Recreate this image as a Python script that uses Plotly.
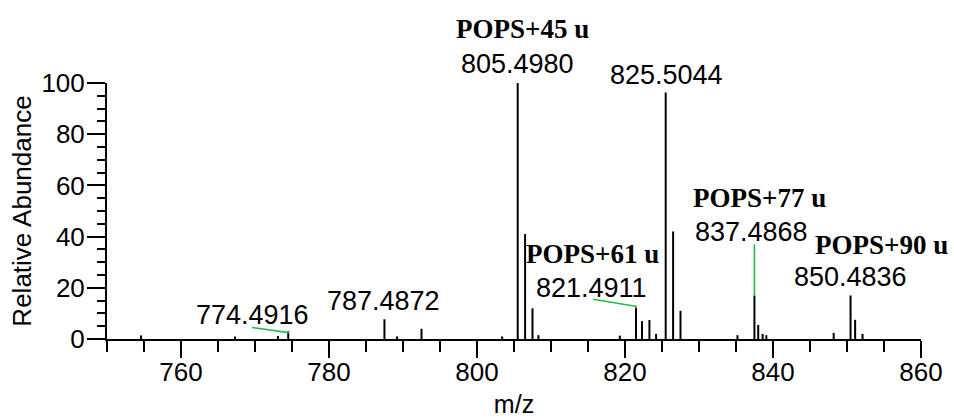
import plotly.graph_objects as go

# ---- data ----
peak_mz = [754.6, 767.3, 773.1, 774.49, 787.49, 789.2, 792.5, 803.4,
           805.50, 806.50, 807.50, 808.3, 819.3, 821.49, 822.3, 823.3, 824.2,
           825.50, 826.50, 827.50, 835.2, 837.49, 838.0, 838.6, 839.1,
           848.2, 850.48, 851.1, 852.1]
peak_int = [1.4, 1.0, 1.2, 3.0, 7.7, 1.0, 4.0, 1.0,
            100, 41, 12, 1.5, 1.3, 12.3, 7, 7.4, 2,
            96.3, 42, 11, 1.5, 17, 5.5, 2, 1.5,
            2.4, 17, 7.5, 2]

mass_labels = ["774.4916", "787.4872", "805.4980", "821.4911",
               "825.5044", "837.4868", "850.4836"]
mass_label_x = [769.66, 787.43, 805.47, 815.47, 825.54, 837.16, 850.41]
mass_label_y = [9.2, 14.7, 107.4, 19.8, 103.1, 41.7, 24.1]

adduct_labels = ["POPS+45 u", "POPS+61 u", "POPS+77 u", "POPS+90 u"]
adduct_label_x = [806.1, 815.54, 838.24, 854.6]
adduct_label_y = [121.1, 33.1, 55.0, 36.6]

# green connector lines (x0, y0, x1, y1) in data units
connectors = [(769.6, 4.5, 774.6, 2.5),
              (815.7, 15.5, 821.6, 12.7),
              (837.49, 17, 837.49, 37)]

Y_MAX = 100

# ---- build stick spectrum ----
xs, ys = [], []
for m, h in zip(peak_mz, peak_int):
    xs += [m, m, None]
    ys += [0, h, None]

fig = go.Figure()
fig.add_trace(go.Scatter(x=xs, y=ys, mode="lines",
                         line=dict(color="black", width=2),
                         hoverinfo="skip", showlegend=False, cliponaxis=False))

for x0, y0, x1, y1 in connectors:
    fig.add_trace(go.Scatter(x=[x0, x1], y=[y0, y1], mode="lines",
                             line=dict(color="#22bb44", width=1.6),
                             hoverinfo="skip", showlegend=False, cliponaxis=False))

num_font = dict(family="Liberation Sans, Arial, sans-serif", size=27, color="black")
pops_font = dict(family="Liberation Serif, Times New Roman, serif", size=27, color="black")

for t, x, y in zip(mass_labels, mass_label_x, mass_label_y):
    fig.add_annotation(x=x, y=y / Y_MAX, xref="x", yref="paper", text=t,
                       showarrow=False, font=num_font,
                       xanchor="center", yanchor="middle")
for t, x, y in zip(adduct_labels, adduct_label_x, adduct_label_y):
    fig.add_annotation(x=x, y=y / Y_MAX, xref="x", yref="paper",
                       text="<b>" + t + "</b>", showarrow=False,
                       font=pops_font, xanchor="center", yanchor="middle")

tick_font = dict(family="Liberation Sans, Arial, sans-serif", size=26, color="black")

fig.update_xaxes(range=[750, 860], showline=True, linecolor="black", linewidth=2,
                 automargin=False, ticklabelstandoff=-8,
                 ticks="outside", tick0=760, dtick=20, ticklen=17, tickwidth=2,
                 tickcolor="black", tickfont=tick_font, showgrid=False, zeroline=False,
                 minor=dict(ticks="outside", dtick=5, tick0=750, ticklen=11,
                            tickwidth=2, tickcolor="black", showgrid=False),
                 title=dict(text="m/z", font=dict(family="Liberation Sans, Arial, sans-serif",
                                                  size=25, color="black"), standoff=17))
fig.update_yaxes(range=[0, Y_MAX], showline=True, linecolor="black", linewidth=2,
                 automargin=False, ticklabelstandoff=-3,
                 ticks="outside", tick0=0, dtick=20, ticklen=18, tickwidth=2,
                 tickcolor="black", tickfont=tick_font, showgrid=False, zeroline=False,
                 minor=dict(ticks="outside", dtick=5, ticklen=8, tickwidth=2,
                            tickcolor="black", showgrid=False),
                 title=dict(text="Relative Abundance",
                            font=dict(family="Liberation Sans, Arial, sans-serif",
                                      size=26, color="black"), standoff=2))

fig.update_layout(width=954, height=418, margin=dict(l=107, r=33, t=83, b=79),
                  plot_bgcolor="white", paper_bgcolor="white", showlegend=False)

fig.write_html("out.html", config={"displayModeBar": False},
               post_script="document.body.style.margin='0';"
                           "document.body.style.overflow='hidden';")
